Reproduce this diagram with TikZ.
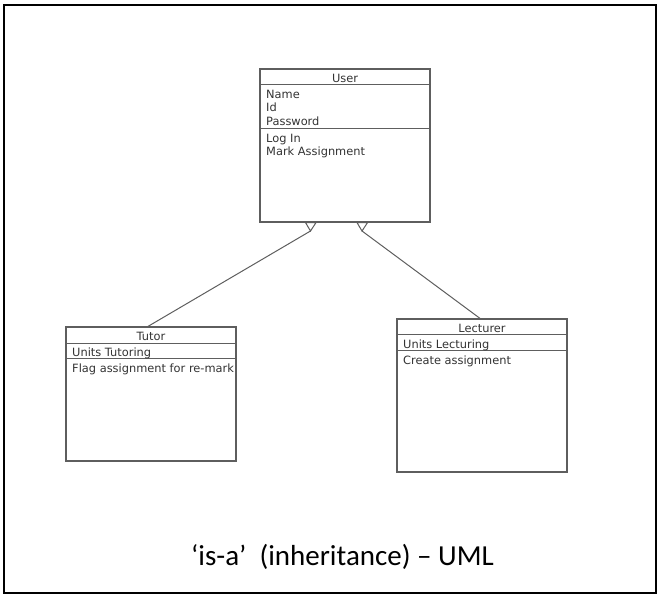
\documentclass[tikz,border=0pt]{standalone}
\usepackage{fontspec}
\setmainfont{DejaVu Sans}
\newfontfamily\captionfont{Carlito}
\usetikzlibrary{calc}
\definecolor{umlline}{HTML}{5E5E5E}
\definecolor{umltext}{HTML}{333333}
\begin{document}
\begin{tikzpicture}[x=1pt,y=-1pt,
  classbox/.style={draw=umlline, line width=1.2pt, inner sep=0pt, minimum width=170pt},
  compartment/.style={draw=umlline, line width=1.2pt},
  member/.style={anchor=base west, inner sep=0pt, text=umltext, font=\fontsize{11.4}{13}\selectfont},
  classname/.style={anchor=base, inner sep=0pt, text=umltext, font=\fontsize{11.4}{13}\selectfont},
  generalization/.style={draw=umlline, line width=1pt},
  hollowhead/.style={draw=umlline, line width=1pt, fill=white, line join=miter}]

\useasboundingbox (0,0) rectangle (660,596);
\draw[line width=2pt] (4,5) rectangle (656,593);

% ---- class User ----
\node[classbox, minimum height=153pt] (user) at (345,145.5) {};
\draw[compartment] ($(user.north west)+(0,16)$) -- ($(user.north east)+(0,16)$);
\draw[compartment] ($(user.north west)+(0,60)$) -- ($(user.north east)+(0,60)$);
\node[classname] (userT) at (345,82.3) {User};
\node[member] (u1) at (266,98.3) {Name};
\node[member] (u2) at (266,112.0) {Id};
\node[member] (u3) at (266,125.7) {Password};
\node[member] (u4) at (266,142.3) {Log In};
\node[member] (u5) at (266,156.0) {Mark Assignment};

% ---- class Tutor ----
\node[classbox, minimum height=134pt] (tutor) at (151,394) {};
\draw[compartment] ($(tutor.north west)+(0,17)$) -- ($(tutor.north east)+(0,17)$);
\draw[compartment] ($(tutor.north west)+(0,32)$) -- ($(tutor.north east)+(0,32)$);
\node[classname] (tutorT) at (151,340.7) {Tutor};
\node[member] (t1) at (72,356.7) {Units Tutoring};
\node[member] (t2) at (72,372.7) {Flag assignment for re-mark};

% ---- class Lecturer ----
\node[classbox, minimum height=153pt] (lect) at (482,395.5) {};
\draw[compartment] ($(lect.north west)+(0,16)$) -- ($(lect.north east)+(0,16)$);
\draw[compartment] ($(lect.north west)+(0,32)$) -- ($(lect.north east)+(0,32)$);
\node[classname] (lectT) at (482,332.7) {Lecturer};
\node[member] (l1) at (403,348.3) {Units Lecturing};
\node[member] (l2) at (403,364.3) {Create assignment};

% ---- generalization connectors ----
\coordinate (tutorEnd) at ($(tutor.north)+(-3,0)$);
\coordinate (lectEnd) at ($(lect.north)+(-2,0)$);
\coordinate (tipL) at (310.5,231);
\coordinate (tipR) at (362,231);
\draw[generalization] (tutorEnd) -- (tipL);
\draw[generalization] (lectEnd) -- (tipR);
\draw[hollowhead] (305.5,222.6) -- (316,222.6) -- (tipL) -- cycle;
\draw[hollowhead] (357,222.6) -- (367.5,222.6) -- (tipR) -- cycle;

% ---- caption ----
\node[anchor=base west, inner sep=0pt, font=\captionfont\fontsize{29}{34}\selectfont] (caption) at (191,565) {‘is-a’\ \ (inheritance) – UML};
\end{tikzpicture}
\end{document}
